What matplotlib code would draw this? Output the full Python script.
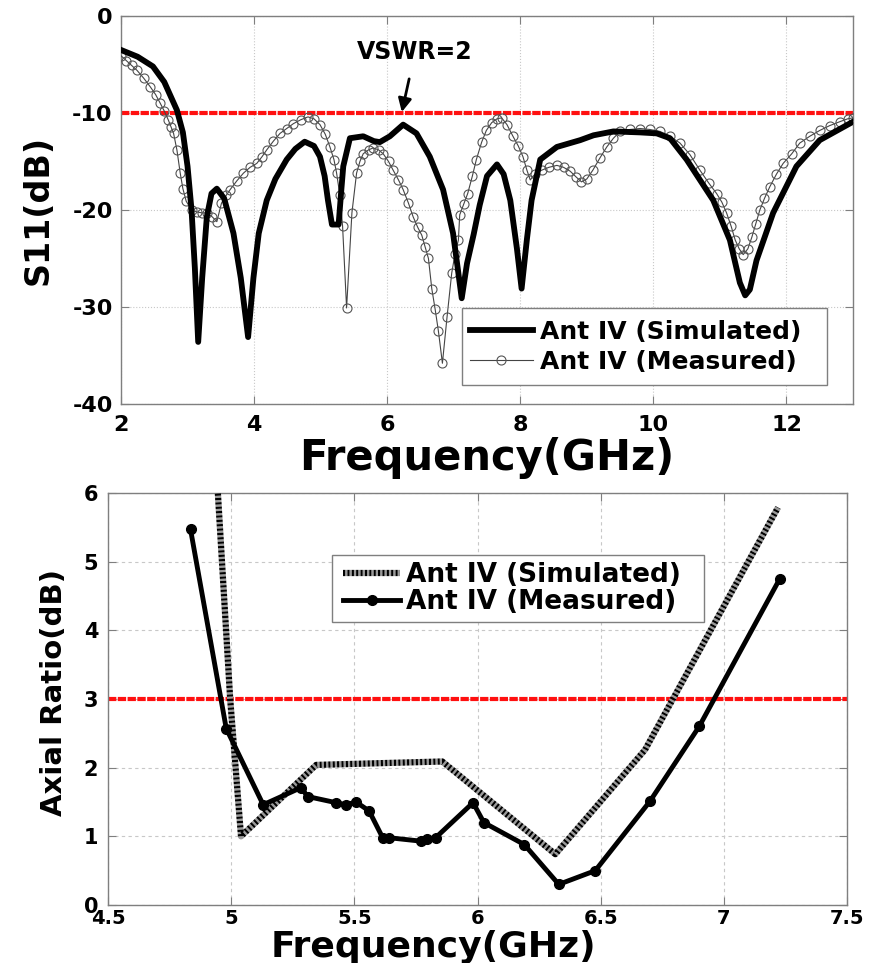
import matplotlib
matplotlib.use("Agg")
import matplotlib.pyplot as plt
from matplotlib.patches import Rectangle

plt.rcParams['font.family'] = ['DejaVu Sans']
plt.rcParams['font.weight'] = 'bold'
plt.rcParams['axes.unicode_minus'] = False

# ---------------- S11 data ----------------
s11_sim_f = [2.00, 2.25, 2.48, 2.65, 2.84, 2.93, 3.00, 3.06, 3.11, 3.16, 3.22, 3.29, 3.36, 3.44,
             3.55, 3.69, 3.80, 3.91, 3.99, 4.07, 4.19, 4.32, 4.49, 4.62, 4.76, 4.90, 4.99, 5.06,
             5.11, 5.17, 5.27, 5.31, 5.34, 5.44, 5.64, 5.80, 5.89, 6.04, 6.24, 6.44, 6.64, 6.84,
             6.99, 7.06, 7.12, 7.20, 7.30, 7.39, 7.50, 7.65, 7.75, 7.85, 7.95, 8.02, 8.10, 8.17,
             8.30, 8.55, 8.90, 9.10, 9.40, 9.80, 10.05, 10.25, 10.50, 10.90, 11.15, 11.30, 11.38,
             11.45, 11.55, 11.80, 12.15, 12.50, 13.00]
s11_sim_db = [-3.5, -4.2, -5.2, -6.8, -9.7, -12.0, -15.5, -20.0, -26.0, -33.6, -27.0, -20.7, -18.3, -17.8,
              -18.8, -22.4, -27.0, -33.1, -27.0, -22.4, -19.0, -16.8, -14.8, -13.7, -12.96, -13.4, -14.5, -16.5,
              -19.0, -21.5, -21.5, -18.0, -15.5, -12.6, -12.4, -12.9, -13.0, -12.4, -11.2, -12.1, -14.5, -17.9,
              -22.4, -26.0, -29.1, -25.5, -22.5, -19.5, -16.5, -15.3, -16.3, -19.0, -24.0, -28.1, -23.0, -19.0,
              -14.8, -13.5, -12.8, -12.3, -11.9, -12.0, -12.1, -12.6, -14.8, -19.0, -23.1, -27.5, -28.8,
              -28.2, -25.2, -20.3, -15.5, -12.8, -10.9]

s11_meas_f = [2.00, 2.08, 2.16, 2.24, 2.34, 2.44, 2.52, 2.59, 2.65, 2.71, 2.75, 2.79, 2.84, 2.89, 2.93,
              2.98, 3.06, 3.14, 3.22, 3.29, 3.37, 3.44, 3.51, 3.58, 3.64, 3.74, 3.84, 3.94, 4.04, 4.12,
              4.19, 4.29, 4.39, 4.49, 4.59, 4.70, 4.81, 4.90, 4.99, 5.07, 5.14, 5.20, 5.24, 5.29, 5.33,
              5.39, 5.47, 5.54, 5.59, 5.64, 5.72, 5.79, 5.87, 5.94, 6.02, 6.09, 6.17, 6.24, 6.32, 6.39,
              6.46, 6.52, 6.57, 6.62, 6.67, 6.72, 6.77, 6.83, 6.90, 6.97, 7.02, 7.07, 7.09, 7.15, 7.21,
              7.28, 7.34, 7.42, 7.49, 7.57, 7.65, 7.72, 7.80, 7.89, 7.97, 8.04, 8.10, 8.15, 8.22, 8.32,
              8.43, 8.55, 8.65, 8.75, 8.84, 8.92, 9.00, 9.09, 9.20, 9.30, 9.40, 9.50, 9.65, 9.80, 9.95,
              10.10, 10.25, 10.40, 10.55, 10.70, 10.83, 10.95, 11.03, 11.10, 11.17, 11.23, 11.29, 11.35,
              11.42, 11.48, 11.54, 11.60, 11.67, 11.75, 11.85, 11.95, 12.08, 12.20, 12.35, 12.50, 12.65,
              12.80, 12.92, 13.00]
s11_meas_db = [-4.1, -4.6, -5.1, -5.6, -6.4, -7.3, -8.1, -9.0, -9.8, -10.7, -11.4, -12.1, -13.8, -16.2, -17.8,
               -19.1, -20.0, -20.2, -20.3, -20.3, -20.7, -21.2, -19.3, -18.5, -17.9, -17.0, -16.2, -15.6, -15.2, -14.5,
               -13.8, -12.9, -12.1, -11.6, -11.1, -10.7, -10.4, -10.6, -11.2, -12.2, -13.5, -14.8, -16.2, -18.5, -21.7,
               -30.1, -20.3, -16.2, -15.0, -14.2, -13.8, -13.6, -13.8, -14.2, -15.0, -15.9, -16.9, -17.9, -19.3, -20.7,
               -21.8, -22.6, -23.8, -25.0, -28.1, -30.2, -32.5, -35.8, -31.0, -26.5, -24.5, -23.1, -20.5, -19.4, -18.3,
               -16.5, -14.8, -13.0, -11.8, -11.0, -10.6, -10.5, -11.2, -12.4, -13.4, -14.5, -15.9, -16.9, -16.3, -15.9,
               -15.6, -15.4, -15.6, -16.0, -16.6, -17.1, -16.8, -15.9, -14.6, -13.5, -12.6, -11.9, -11.7, -11.6, -11.7,
               -11.9, -12.4, -13.1, -14.3, -15.9, -17.2, -18.3, -19.2, -20.3, -21.7, -23.1, -24.0, -24.6,
               -24.0, -22.8, -21.4, -20.0, -18.8, -17.6, -16.3, -15.2, -14.2, -13.1, -12.4, -11.8, -11.3,
               -10.9, -10.6, -10.5]

s11_ticks_x = [2, 4, 6, 8, 10, 12]
s11_ticks_y = [-40, -30, -20, -10, 0]
vswr_level = -10

# ---------------- Axial ratio data ----------------
ar_sim_f = [4.935, 4.946, 4.996, 5.040, 5.345, 5.857, 6.316, 6.680, 7.220]
ar_sim_db = [6.5, 6.0, 3.0, 1.0, 2.04, 2.09, 0.74, 2.26, 5.79]

ar_meas_f = [4.835, 4.980, 5.130, 5.284, 5.310, 5.426, 5.466, 5.507, 5.560, 5.615, 5.640, 5.770,
             5.797, 5.830, 5.982, 6.026, 6.190, 6.330, 6.478, 6.700, 6.900, 7.227]
ar_meas_db = [5.47, 2.57, 1.46, 1.71, 1.58, 1.49, 1.46, 1.50, 1.37, 0.98, 0.98, 0.93,
              0.96, 0.98, 1.49, 1.20, 0.88, 0.30, 0.50, 1.51, 2.60, 4.75]

ar_ticks_x = [4.5, 5, 5.5, 6, 6.5, 7, 7.5]
ar_tick_labels_x = ['4.5', '5', '5.5', '6', '6.5', '7', '7.5']
ar_ticks_y = [0, 1, 2, 3, 4, 5, 6]
ar_level = 3

W, H = 871, 963
fig = plt.figure(figsize=(W / 100, H / 100), dpi=100)

def px_axes(l, t, r, b):
    return fig.add_axes([l / W, (H - b) / H, (r - l) / W, (b - t) / H])

def style(ax, grid_ls):
    for s in ax.spines.values():
        s.set_color('#7f7f7f')
        s.set_linewidth(1.0)
    ax.tick_params(direction='in', length=6, width=0.8, color='#7f7f7f',
                   top=True, right=True)
    ax.grid(True, color='#c8c8c8', linestyle=grid_ls, linewidth=0.8)
    ax.set_axisbelow(True)

def legend_box(ax, x0, y0, x1, y1):
    ax.add_patch(Rectangle((x0, y0), x1 - x0, y1 - y0, transform=ax.transAxes,
                           facecolor='white', edgecolor='#7f7f7f', linewidth=1.0,
                           zorder=5, clip_on=False))

# ---------- top: S11 ----------
ax1 = px_axes(121, 16, 853, 404)
style(ax1, ':')
ax1.axhline(vswr_level, color='#ff1010', linewidth=3.0, linestyle=(0, (2.0, 0.35)), zorder=2)
ax1.plot(s11_sim_f, s11_sim_db, color='black', linewidth=4.2, solid_joinstyle='round',
         label='Ant IV (Simulated)', zorder=4)
ax1.plot(s11_meas_f, s11_meas_db, color='#444444', linewidth=0.8, marker='o', markersize=6.5,
         markerfacecolor='none', markeredgecolor='#555555', markeredgewidth=0.8,
         label='Ant IV (Measured)', zorder=3)
ax1.set_xlim(2, 13)
ax1.set_ylim(-40, 0)
ax1.set_xticks(s11_ticks_x)
ax1.set_yticks(s11_ticks_y)
ax1.tick_params(axis='x', labelsize=16, pad=8)
ax1.tick_params(axis='y', labelsize=16, pad=6)
ax1.set_xlabel('Frequency(GHz)', fontsize=30, fontweight='bold')
ax1.xaxis.label.set_va('center')
ax1.xaxis.set_label_coords(0.5, -0.139)
ax1.set_ylabel('S11(dB)', fontsize=24, fontweight='bold')
ax1.yaxis.label.set_va('center')
ax1.yaxis.set_label_coords(-0.113, 0.5)
ax1.annotate('VSWR=2', xy=(6.22, -9.9), xytext=(6.42, -3.7), fontsize=17, fontweight='bold',
             ha='center', va='center',
             arrowprops=dict(arrowstyle='-|>', color='black', lw=2.0, mutation_scale=20,
                             shrinkA=9, shrinkB=0))
legend_box(ax1, (462 - 121) / 732, (404 - 385) / 388, (827 - 121) / 732, (404 - 308) / 388)
leg1 = ax1.legend(loc='center left', bbox_to_anchor=((470 - 121) / 732, (404 - 346.5) / 388),
                  fontsize=18, handlelength=2.5, handletextpad=0.32, borderpad=0.0,
                  labelspacing=0.24, frameon=False, borderaxespad=0)
leg1.set_zorder(6)

# ---------- bottom: Axial ratio ----------
ax2 = px_axes(108, 493, 847, 905)
style(ax2, (0, (3, 3)))
ax2.axhline(ar_level, color='#ff1010', linewidth=3.0, linestyle=(0, (2.0, 0.35)), zorder=2)
ax2.plot(ar_sim_f, ar_sim_db, color='black', gapcolor='#9a9a9a', linewidth=4.5,
         linestyle=(0, (0.35, 0.35)), label='Ant IV (Simulated)', zorder=3)
ax2.plot(ar_meas_f, ar_meas_db, color='black', linewidth=3.5, marker='o', markersize=7,
         label='Ant IV (Measured)', zorder=4)
ax2.set_xlim(4.5, 7.5)
ax2.set_ylim(0, 6)
ax2.set_xticks(ar_ticks_x)
ax2.set_xticklabels(ar_tick_labels_x)
ax2.set_yticks(ar_ticks_y)
ax2.tick_params(axis='x', labelsize=14, pad=3)
ax2.tick_params(axis='y', labelsize=15, pad=7)
ax2.set_xlabel('Frequency(GHz)', fontsize=26, fontweight='bold')
ax2.xaxis.label.set_va('baseline')
ax2.xaxis.set_label_coords(0.441, (905 - 957) / 412)
ax2.set_ylabel('Axial Ratio(dB)', fontsize=21, fontweight='bold')
ax2.yaxis.label.set_va('center')
ax2.yaxis.set_label_coords(-0.073, 0.515)
legend_box(ax2, (332 - 108) / 739, (905 - 622) / 412, (704 - 108) / 739, (905 - 555) / 412)
leg2 = ax2.legend(loc='center left', bbox_to_anchor=((343 - 108) / 739, (905 - 588.5) / 412),
                  fontsize=19, handlelength=2.16, handletextpad=0.23, borderpad=0.0,
                  labelspacing=0.05, frameon=False, borderaxespad=0)
leg2.set_zorder(6)

fig.savefig('out.png', dpi=100)
